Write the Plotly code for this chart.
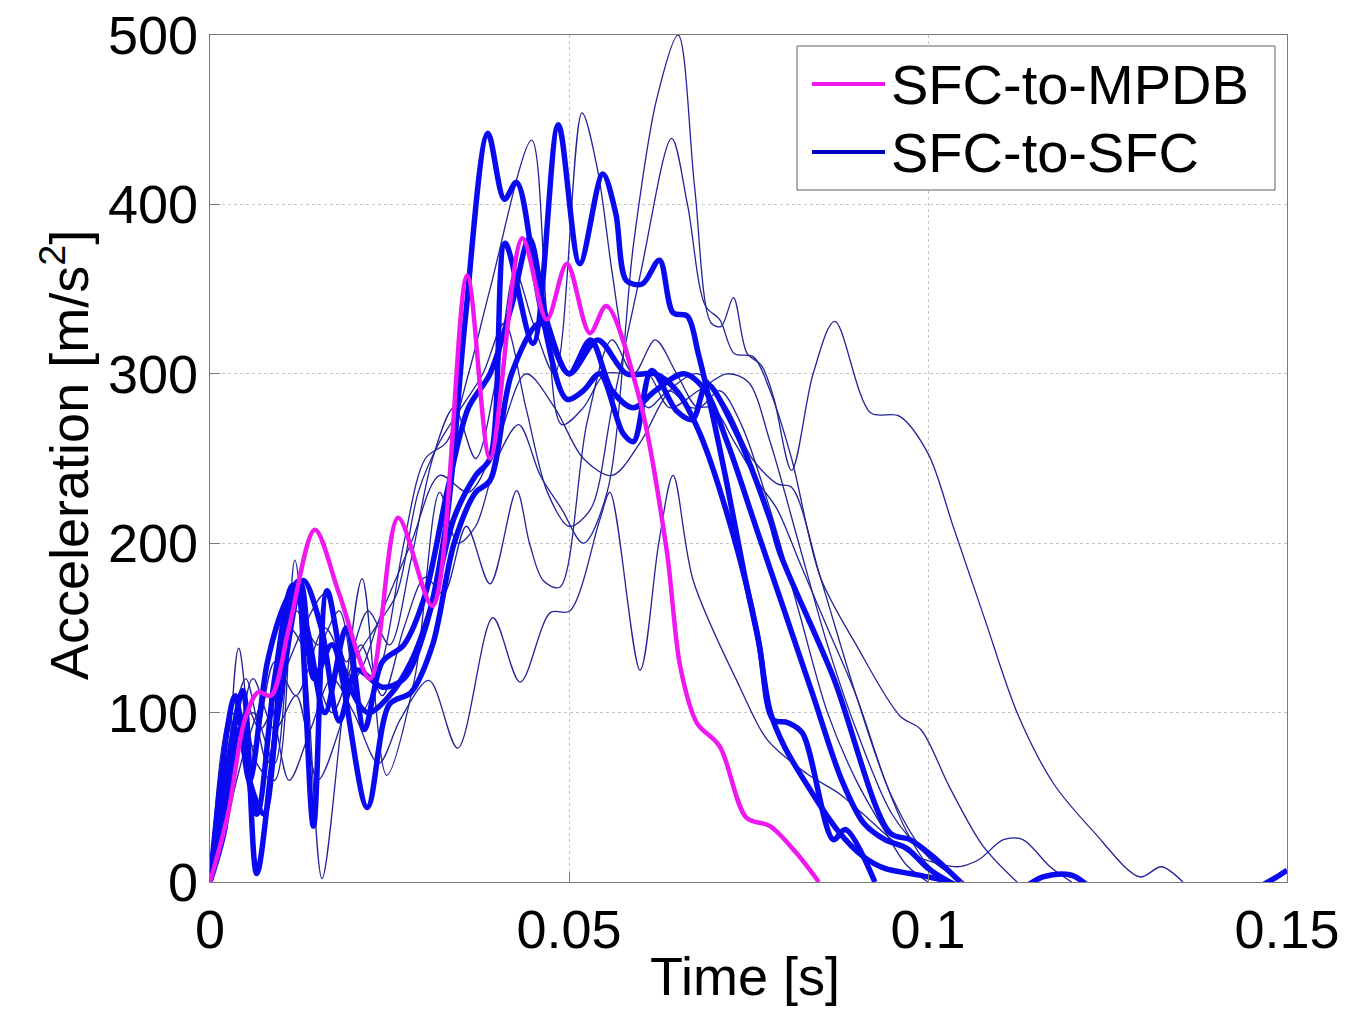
import plotly.graph_objects as go

# ---------------- data (time [s], acceleration [m/s^2]) ----------------
mpdb_t = [0, 0.0025, 0.0048, 0.0067, 0.0085, 0.011, 0.0146, 0.018, 0.0223, 0.0262, 0.031,
          0.0358, 0.039, 0.0435, 0.0469, 0.0497, 0.0529, 0.0552, 0.0599, 0.0636, 0.0655,
          0.0678, 0.071, 0.0747, 0.078, 0.0815, 0.0848]
mpdb_a = [0, 40, 95, 112, 110, 150, 208, 170, 120, 215, 163,
          358, 250, 380, 332, 365, 324, 340, 284, 196, 127,
          94, 80, 38, 33, 18, 0]

# thick SFC-to-SFC curves
tA_t = [0, 0.0025, 0.0046, 0.0065, 0.0095, 0.013, 0.0155, 0.018, 0.0205, 0.024, 0.027, 0.03,
        0.033, 0.0355, 0.0387, 0.041, 0.0427, 0.046, 0.0497, 0.052, 0.0543, 0.0575, 0.059,
        0.0615, 0.065, 0.0672, 0.0692, 0.073, 0.078, 0.0794, 0.0868, 0.0947, 0.0975, 0.1007, 0.1045]
tA_a = [0, 70, 113, 5, 100, 178, 150, 95, 125, 115, 120, 150,
        215, 330, 442, 403, 413, 340, 285, 290, 300, 265, 260,
        302, 278, 273, 294, 268, 214, 194, 121, 29, 25, 15, 0]

tB_t = [0, 0.002, 0.004, 0.0055, 0.0075, 0.010, 0.0121, 0.0144, 0.0163, 0.019, 0.022, 0.025,
        0.028, 0.031, 0.034, 0.037, 0.039, 0.0411, 0.045, 0.0485, 0.0515, 0.0547, 0.0565,
        0.058, 0.0602, 0.0626, 0.0645, 0.0665, 0.068, 0.0693, 0.072, 0.0745, 0.0765, 0.0784,
        0.0805, 0.0825, 0.0868, 0.0885, 0.0926]
tB_a = [0, 50, 100, 60, 40, 130, 175, 33, 172, 120, 100, 110,
        130, 165, 215, 240, 250, 377, 318, 447, 365, 418, 395,
        355, 353, 367, 336, 334, 312, 289, 235, 180, 140, 96,
        94, 88, 25, 31, 0]

tC_t = [0, 0.0035, 0.0055, 0.008, 0.0105, 0.0125, 0.0145, 0.017, 0.0219, 0.025, 0.028, 0.031,
        0.034, 0.037, 0.039, 0.042, 0.046, 0.05, 0.054, 0.058, 0.062, 0.065, 0.0682, 0.0728,
        0.0762, 0.078, 0.08, 0.0835, 0.0875, 0.091, 0.094, 0.0975, 0.1, 0.103, 0.106, 0.112,
        0.116, 0.12, 0.124, 0.144, 0.15]
tC_a = [0, 110, 60, 130, 165, 178, 120, 140, 44, 105, 112, 140,
        200, 230, 237, 300, 330, 300, 320, 300, 300, 290, 265, 206,
        147, 101, 80, 55, 30, 15, 8, 5, 3, 0, -6, -6,
        3, 4, -6, -6, 7]

tD_t = [0, 0.002, 0.004, 0.0065, 0.009, 0.0115, 0.0135, 0.016, 0.019, 0.0215, 0.024, 0.027,
        0.03, 0.033, 0.036, 0.039, 0.042, 0.0445, 0.047, 0.05, 0.053, 0.056, 0.059, 0.062,
        0.066, 0.069, 0.072, 0.076, 0.08, 0.084, 0.088, 0.091, 0.094, 0.097, 0.1, 0.103]
tD_a = [0, 30, 90, 40, 120, 175, 150, 100, 150, 90, 130, 140,
        170, 230, 280, 300, 340, 380, 330, 300, 320, 290, 280, 290,
        300, 290, 260, 210, 160, 110, 60, 35, 25, 20, 8, 0]

# thin SFC-to-SFC curves
n1_t = [0, 0.002, 0.004, 0.0065, 0.009, 0.0118, 0.0135, 0.0156, 0.0185, 0.0212, 0.0246, 0.0285,
        0.032, 0.0345, 0.037, 0.04, 0.043, 0.046, 0.049, 0.052, 0.0553, 0.059, 0.0622, 0.0652,
        0.0675, 0.0698, 0.0712, 0.0729, 0.0748, 0.0768, 0.0785, 0.081, 0.084, 0.087, 0.092,
        0.096, 0.1, 0.1035, 0.108, 0.1125, 0.1175, 0.123, 0.1295, 0.1325, 0.1355]
n1_a = [0, 40, 138, 70, 60, 190, 120, 2, 100, 179, 63, 120,
        230, 200, 210, 250, 270, 240, 220, 200, 230, 377, 462, 500,
        410, 330, 328, 345, 312, 305, 286, 243, 300, 331, 277,
        275, 253, 210, 154, 99, 58, 30, 3, 9, 0]

n2_t = [0, 0.003, 0.005, 0.008, 0.011, 0.014, 0.017, 0.02, 0.023, 0.026, 0.029, 0.032,
        0.035, 0.038, 0.041, 0.044, 0.047, 0.05, 0.053, 0.056, 0.06, 0.0643, 0.0665, 0.069,
        0.071, 0.073, 0.0757, 0.078, 0.081, 0.085, 0.09, 0.0961, 0.099, 0.103, 0.1077, 0.1124]
n2_a = [0, 90, 120, 70, 150, 130, 100, 130, 150, 170, 230, 260,
        280, 300, 330, 280, 230, 210, 220, 280, 360, 439, 400, 340,
        332, 312, 310, 290, 250, 180, 140, 98, 90, 56, 21, 0]

n3_t = [0, 0.002, 0.0045, 0.007, 0.01, 0.013, 0.016, 0.019, 0.022, 0.025, 0.028, 0.031,
        0.034, 0.037, 0.04, 0.0425, 0.045, 0.048, 0.0518, 0.054, 0.056, 0.058, 0.061, 0.064,
        0.067, 0.07, 0.073, 0.0765, 0.079, 0.082, 0.086, 0.09, 0.094, 0.097, 0.1, 0.103]
n3_a = [0, 60, 110, 90, 120, 150, 170, 130, 160, 140, 190, 250,
        280, 250, 300, 360, 330, 300, 454, 420, 360, 310, 280, 290,
        280, 280, 260, 235, 220, 190, 150, 110, 60, 30, 10, 0]

n4_t = [0, 0.003, 0.006, 0.009, 0.012, 0.015, 0.018, 0.021, 0.024, 0.027, 0.03, 0.033,
        0.036, 0.039, 0.0448, 0.047, 0.049, 0.052, 0.055, 0.058, 0.061, 0.064, 0.068, 0.072,
        0.075, 0.078, 0.082, 0.086, 0.09, 0.095, 0.1, 0.105]
n4_a = [0, 80, 100, 70, 160, 140, 160, 100, 130, 200, 250, 260,
        300, 350, 438, 330, 270, 280, 300, 300, 300, 280, 290, 300,
        295, 260, 200, 140, 90, 40, 15, 0]

n5_t = [0, 0.002, 0.005, 0.008, 0.011, 0.014, 0.017, 0.02, 0.0235, 0.0265, 0.0305, 0.0345,
        0.0394, 0.0432, 0.0474, 0.0501, 0.0543, 0.0557, 0.0599, 0.0625, 0.0645, 0.0673, 0.0738,
        0.0776, 0.0831, 0.0877, 0.091, 0.0975, 0.104, 0.107, 0.1105, 0.1132, 0.117, 0.12]
n5_a = [0, 30, 80, 110, 60, 90, 120, 100, 70, 96, 119, 79,
        156, 118, 159, 160, 214, 230, 125, 200, 240, 178, 115,
        84, 64, 52, 40, 17, 9, 13, 25, 25, 9, 0]

n6_t = [0, 0.003, 0.006, 0.009, 0.012, 0.015, 0.018, 0.021, 0.024, 0.027, 0.03, 0.0325,
        0.0357, 0.039, 0.0427, 0.0445, 0.0464, 0.0487, 0.0525, 0.056, 0.059, 0.062, 0.065,
        0.068, 0.071, 0.074, 0.078, 0.082, 0.086, 0.09, 0.094, 0.097, 0.1]
n6_a = [0, 50, 120, 90, 110, 60, 90, 140, 110, 150, 180, 170,
        210, 176, 231, 200, 178, 174, 271, 320, 300, 320, 300,
        280, 290, 270, 220, 160, 100, 60, 30, 10, 0]

n7_t = [0, 0.003, 0.006, 0.009, 0.012, 0.016, 0.02, 0.024, 0.028, 0.032, 0.036, 0.04,
        0.044, 0.048, 0.052, 0.056, 0.06, 0.064, 0.068, 0.072, 0.0755, 0.079, 0.081, 0.085,
        0.09, 0.095, 0.1, 0.105]
n7_a = [0, 100, 80, 130, 110, 150, 120, 160, 200, 240, 230, 260,
        300, 280, 250, 240, 260, 290, 300, 280, 250, 235, 233, 180,
        110, 50, 15, 0]

x_ticks = [0, 0.05, 0.1, 0.15]
x_tick_text = ["0", "0.05", "0.1", "0.15"]
y_ticks = [0, 100, 200, 300, 400, 500]
legend_labels = ["SFC-to-MPDB", "SFC-to-SFC"]

# ---------------- styles ----------------
MAGENTA = "#f018f0"
BLUE = "#0a0af0"
NAVY = "#23239a"
FONT = "Liberation Sans, Arial, sans-serif"
FS = 54

fig = go.Figure()

thin = [(n1_t, n1_a), (n2_t, n2_a), (n3_t, n3_a), (n4_t, n4_a),
        (n5_t, n5_a), (n6_t, n6_a), (n7_t, n7_a)]
for t, a in thin:
    fig.add_trace(go.Scatter(x=t, y=a, mode="lines", showlegend=False,
                             line=dict(color=NAVY, width=1.3, shape="spline", smoothing=0.9)))

thick = [(tD_t, tD_a), (tC_t, tC_a), (tB_t, tB_a), (tA_t, tA_a)]
for t, a in thick:
    fig.add_trace(go.Scatter(x=t, y=a, mode="lines", showlegend=False,
                             line=dict(color=BLUE, width=5.5, shape="spline", smoothing=0.9)))

fig.add_trace(go.Scatter(x=mpdb_t, y=mpdb_a, mode="lines", showlegend=False,
                         line=dict(color=MAGENTA, width=4.5, shape="spline", smoothing=0.9)))

# ---------------- layout geometry (body margin removed via post_script) ----------------
W, H = 1349, 1013
L, R, T, B = 210, 62, 35, 131
pw, ph = W - L - R, H - T - B


def px(x):  # page pixel -> paper x
    return (x - L) / pw


def py(y):  # page pixel -> paper y
    return (H - B - y) / ph


# manual MATLAB-style legend
fig.add_shape(type="rect", xref="paper", yref="paper",
              x0=px(797), x1=px(1275), y0=py(190), y1=py(46),
              line=dict(color="#606060", width=1), fillcolor="white", layer="above")
for yy, col in [(84, MAGENTA), (152, "#0000c0")]:
    fig.add_shape(type="line", xref="paper", yref="paper",
                  x0=px(812), x1=px(885), y0=py(yy), y1=py(yy),
                  line=dict(color=col, width=4), layer="above")
for yy, lab in [(84, legend_labels[0]), (152, legend_labels[1])]:
    fig.add_annotation(xref="paper", yref="paper", x=px(889), y=py(yy),
                       text=lab, showarrow=False, xanchor="left", yanchor="middle",
                       font=dict(family=FONT, size=FS + 2, color="black"))

# axis titles
fig.add_annotation(xref="paper", yref="paper", x=px(745), y=py(976), text="Time [s]",
                   showarrow=False, xanchor="center", yanchor="middle",
                   font=dict(family=FONT, size=FS, color="black"))
fig.add_annotation(xref="paper", yref="paper", x=px(65), y=py(455),
                   text="Acceleration [m/s<sup>2</sup>]", textangle=-90,
                   showarrow=False, xanchor="center", yanchor="middle",
                   font=dict(family=FONT, size=FS, color="black"))

axis_common = dict(showgrid=True, gridcolor="#c4c4c4", griddash="dot", gridwidth=1,
                   showline=True, linecolor="#7a7a7a", linewidth=1.2, mirror=True,
                   ticks="inside", ticklen=10, tickcolor="#7a7a7a", zeroline=False,
                   ticklabeloverflow="allow",
                   tickfont=dict(family=FONT, size=FS, color="black"))

fig.update_xaxes(range=[0, 0.15], tickvals=x_ticks, ticktext=x_tick_text, **axis_common)
fig.update_yaxes(range=[0, 500], tickvals=y_ticks, **axis_common)

fig.update_layout(width=W, height=H, margin=dict(l=L, r=R, t=T, b=B, autoexpand=False),
                  plot_bgcolor="white", paper_bgcolor="white", showlegend=False)

fig.write_html("out.html", config={"displayModeBar": False},
               post_script="document.body.style.margin='0px';document.body.style.overflow='hidden';")
